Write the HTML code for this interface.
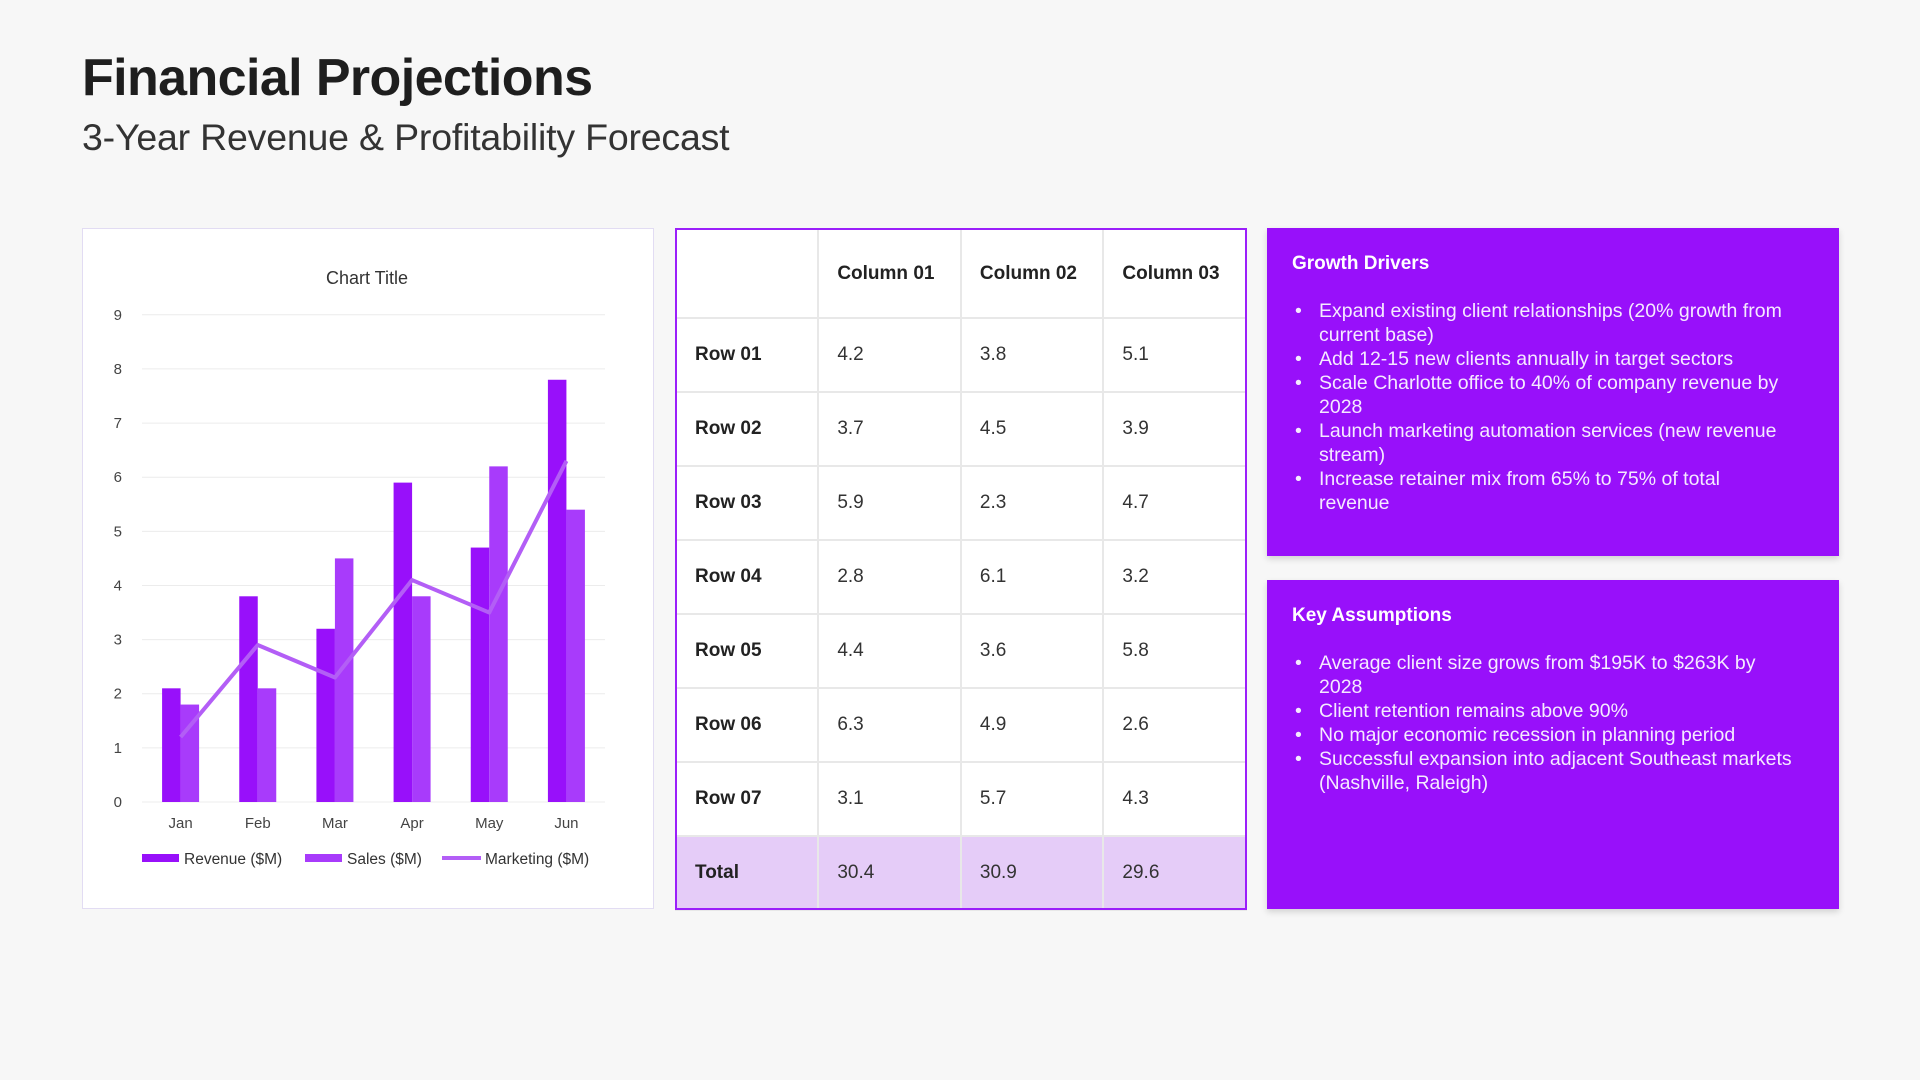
<!DOCTYPE html>
<html><head><meta charset="utf-8"><style>
*{margin:0;padding:0;box-sizing:border-box}
body{width:1920px;height:1080px;background:#f7f7f7;font-family:"Liberation Sans",sans-serif;position:relative;overflow:hidden;color:#222}
.abs{position:absolute}
h1{position:absolute;left:82px;top:48px;font-size:52px;font-weight:bold;letter-spacing:-0.6px;color:#1e1e1e}
h2{position:absolute;left:82px;top:116px;font-size:37.5px;font-weight:normal;letter-spacing:-0.2px;color:#333}
#chart{left:82px;top:228px;width:572px;height:681px;background:#fff;border:1.5px solid #e2dcf3}
table{position:absolute;left:675px;top:228px;width:572px;height:682px;border-collapse:collapse;background:#fff}
td{border:2px solid #e8e8e8;padding-left:18px;font-size:19px;color:#333;width:143px}
td.h{font-weight:bold;color:#222}
tr.hd{height:89px}
tr.r{height:74px}
tr.tot td{background:#e5ccf8}
#tframe{left:675px;top:228px;width:572px;height:682px;border:2.5px solid #9b1ffa;pointer-events:none}
.box{position:absolute;left:1267px;width:572px;background:#9810fa;color:#fff;box-shadow:0 3px 6px rgba(0,0,0,.15);padding:25px 44px 0 25px}
.box h3{font-size:19px;font-weight:bold;margin-bottom:24px}
.box ul{list-style:none}
.box li{position:relative;padding-left:27px;font-size:19.5px;line-height:24px;color:#f5eaff}
.box li:before{content:"•";position:absolute;left:3px;top:0}
</style></head><body>
<h1>Financial Projections</h1>
<h2>3-Year Revenue &amp; Profitability Forecast</h2>

<div id="chart" class="abs">
<svg id="svg" width="572" height="681"></svg>
</div>

<table>
<tr class="hd"><td></td><td class="h">Column 01</td><td class="h">Column 02</td><td class="h">Column 03</td></tr>
<tr class="r"><td class="h">Row 01</td><td>4.2</td><td>3.8</td><td>5.1</td></tr>
<tr class="r"><td class="h">Row 02</td><td>3.7</td><td>4.5</td><td>3.9</td></tr>
<tr class="r"><td class="h">Row 03</td><td>5.9</td><td>2.3</td><td>4.7</td></tr>
<tr class="r"><td class="h">Row 04</td><td>2.8</td><td>6.1</td><td>3.2</td></tr>
<tr class="r"><td class="h">Row 05</td><td>4.4</td><td>3.6</td><td>5.8</td></tr>
<tr class="r"><td class="h">Row 06</td><td>6.3</td><td>4.9</td><td>2.6</td></tr>
<tr class="r"><td class="h">Row 07</td><td>3.1</td><td>5.7</td><td>4.3</td></tr>
<tr class="r tot"><td class="h">Total</td><td>30.4</td><td>30.9</td><td>29.6</td></tr>
</table>
<div id="tframe" class="abs"></div>

<div class="box" style="top:228px;height:328px">
<h3>Growth Drivers</h3>
<ul>
<li>Expand existing client relationships (20% growth from current base)</li>
<li>Add 12-15 new clients annually in target sectors</li>
<li>Scale Charlotte office to 40% of company revenue by 2028</li>
<li>Launch marketing automation services (new revenue stream)</li>
<li>Increase retainer mix from 65% to 75% of total revenue</li>
</ul></div>
<div class="box" style="top:580px;height:329px">
<h3>Key Assumptions</h3>
<ul>
<li>Average client size grows from $195K to $263K by 2028</li>
<li>Client retention remains above 90%</li>
<li>No major economic recession in planning period</li>
<li>Successful expansion into adjacent Southeast markets (Nashville, Raleigh)</li>
</ul></div>

<script>
const categories=["Jan","Feb","Mar","Apr","May","Jun"];
const revenue=[2.1,3.8,3.2,5.9,4.7,7.8];
const sales=[1.8,2.1,4.5,3.8,6.2,5.4];
const marketing=[1.2,2.9,2.3,4.1,3.5,6.3];
const yTicks=[0,1,2,3,4,5,6,7,8,9];
const NS="http://www.w3.org/2000/svg";
const svg=document.getElementById('svg');
const L=59,R=522,T=85.8,B=573,YMAX=9;
const y=v=>B-(v/YMAX)*(B-T);
const band=(R-L)/categories.length;
const xc=i=>L+band*(i+0.5);
function mk(t,a,parent){const e=document.createElementNS(NS,t);for(const k in a)e.setAttribute(k,a[k]);(parent||svg).appendChild(e);return e;}
let t=mk('text',{x:284,y:55,'text-anchor':'middle','font-size':18,fill:'#333'});t.textContent='Chart Title';


yTicks.forEach(v=>{
 const g=mk('line',{x1:L,x2:R,y1:y(v),y2:y(v),stroke:'#ececec','stroke-width':1});
 
 
 const l=mk('text',{x:39,y:y(v)+5,'text-anchor':'end','font-size':15,fill:'#444'});l.textContent=v;
 
 
});
const bw=18.5;
categories.forEach((c,i)=>{
 const r=mk('rect',{x:xc(i)-bw,y:y(revenue[i]),width:bw,height:B-y(revenue[i]),fill:'#9810fa'});
 
 
 const s=mk('rect',{x:xc(i),y:y(sales[i]),width:bw,height:B-y(sales[i]),fill:'#a83bfb'});
 
 
 const l=mk('text',{x:xc(i),y:599,'text-anchor':'middle','font-size':15,fill:'#444'});l.textContent=c;
 
 
});
const pl=mk('polyline',{points:marketing.map((v,i)=>xc(i)+','+y(v)).join(' '),fill:'none',stroke:'#b35ef6','stroke-width':4,'stroke-linejoin':'round'});


const leg=[["Revenue ($M)",'#9810fa',59,'rect'],["Sales ($M)",'#a83bfb',222,'rect'],["Marketing ($M)",'#b35ef6',359,'line']];
leg.forEach(([n,col,x0,k])=>{
 const g=mk('g',{});
 
 
 if(k==='rect')mk('rect',{x:x0,y:625,width:37,height:8,fill:col},g);
 else mk('line',{x1:x0,x2:x0+39,y1:629,y2:629,stroke:col,'stroke-width':4},g);
 const tx=mk('text',{x:x0+(k==='rect'?42:43),y:635,'font-size':15.5,fill:'#333'},g);tx.textContent=n;
});
</script>
</body></html>
